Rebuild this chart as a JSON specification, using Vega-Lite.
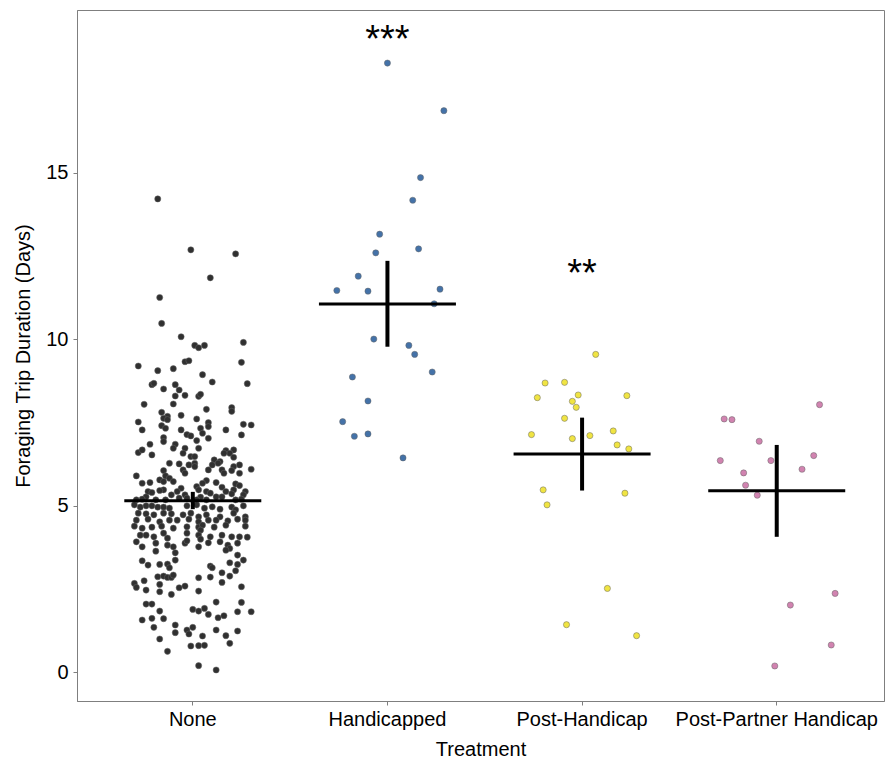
{
  "$schema": "https://vega.github.io/schema/vega-lite/v6.json",
  "width": 807,
  "height": 691,
  "autosize": "none",
  "padding": {"left": 77, "top": 10, "right": 1, "bottom": 61},
  "config": {
    "font": "Liberation Sans",
    "view": {"stroke": "#7f7f7f", "strokeWidth": 1},
    "axis": {
      "grid": false,
      "labelFont": "Liberation Sans",
      "titleFont": "Liberation Sans",
      "labelFontSize": 20,
      "titleFontSize": 20,
      "titleFontWeight": "normal",
      "labelColor": "#000000",
      "titleColor": "#000000",
      "domainColor": "#7f7f7f",
      "tickColor": "#7f7f7f",
      "tickSize": 4,
      "labelLimit": 0,
      "labelOverlap": false
    }
  },
  "datasets": {
    "points": [
      {"treatment":"None","days":14.22,"jitter":-0.18},
      {"treatment":"None","days":12.69,"jitter":-0.01},
      {"treatment":"None","days":12.57,"jitter":0.22},
      {"treatment":"None","days":11.85,"jitter":0.09},
      {"treatment":"None","days":11.26,"jitter":-0.17},
      {"treatment":"None","days":10.48,"jitter":-0.16},
      {"treatment":"None","days":10.08,"jitter":-0.06},
      {"treatment":"None","days":9.82,"jitter":0.01},
      {"treatment":"None","days":9.75,"jitter":0.03},
      {"treatment":"None","days":9.82,"jitter":0.06},
      {"treatment":"None","days":9.91,"jitter":0.26},
      {"treatment":"None","days":9.31,"jitter":0.25},
      {"treatment":"None","days":9.20,"jitter":-0.28},
      {"treatment":"None","days":9.33,"jitter":-0.04},
      {"treatment":"None","days":9.36,"jitter":-0.02},
      {"treatment":"None","days":9.06,"jitter":-0.18},
      {"treatment":"None","days":9.12,"jitter":-0.10},
      {"treatment":"None","days":8.94,"jitter":0.05},
      {"treatment":"None","days":8.72,"jitter":0.10},
      {"treatment":"None","days":8.67,"jitter":0.28},
      {"treatment":"None","days":8.64,"jitter":-0.21},
      {"treatment":"None","days":8.68,"jitter":-0.20},
      {"treatment":"None","days":8.51,"jitter":-0.15},
      {"treatment":"None","days":8.64,"jitter":-0.09},
      {"treatment":"None","days":8.48,"jitter":-0.07},
      {"treatment":"None","days":8.30,"jitter":-0.09},
      {"treatment":"None","days":8.32,"jitter":-0.04},
      {"treatment":"None","days":8.29,"jitter":0.03},
      {"treatment":"None","days":8.35,"jitter":0.04},
      {"treatment":"None","days":8.05,"jitter":-0.25},
      {"treatment":"None","days":8.06,"jitter":-0.10},
      {"treatment":"None","days":7.90,"jitter":0.07},
      {"treatment":"None","days":7.95,"jitter":0.20},
      {"treatment":"None","days":7.84,"jitter":0.20},
      {"treatment":"None","days":7.81,"jitter":-0.16},
      {"treatment":"None","days":7.69,"jitter":-0.13},
      {"treatment":"None","days":7.63,"jitter":-0.15},
      {"treatment":"None","days":7.59,"jitter":-0.13},
      {"treatment":"None","days":7.72,"jitter":-0.06},
      {"treatment":"None","days":7.61,"jitter":0.02},
      {"treatment":"None","days":7.52,"jitter":-0.28},
      {"treatment":"None","days":7.50,"jitter":0.08},
      {"treatment":"None","days":7.41,"jitter":-0.16},
      {"treatment":"None","days":7.33,"jitter":-0.14},
      {"treatment":"None","days":7.33,"jitter":0.04},
      {"treatment":"None","days":7.38,"jitter":0.08},
      {"treatment":"None","days":7.45,"jitter":0.26},
      {"treatment":"None","days":7.43,"jitter":0.30},
      {"treatment":"None","days":7.28,"jitter":-0.06},
      {"treatment":"None","days":7.28,"jitter":0.17},
      {"treatment":"None","days":7.28,"jitter":-0.26},
      {"treatment":"None","days":7.14,"jitter":-0.03},
      {"treatment":"None","days":7.10,"jitter":-0.01},
      {"treatment":"None","days":7.18,"jitter":0.05},
      {"treatment":"None","days":7.03,"jitter":0.08},
      {"treatment":"None","days":7.13,"jitter":0.25},
      {"treatment":"None","days":7.05,"jitter":-0.15},
      {"treatment":"None","days":6.93,"jitter":-0.15},
      {"treatment":"None","days":6.96,"jitter":0.02},
      {"treatment":"None","days":6.85,"jitter":-0.22},
      {"treatment":"None","days":6.85,"jitter":-0.09},
      {"treatment":"None","days":6.73,"jitter":-0.10},
      {"treatment":"None","days":6.73,"jitter":-0.04},
      {"treatment":"None","days":6.58,"jitter":-0.05},
      {"treatment":"None","days":6.60,"jitter":-0.28},
      {"treatment":"None","days":6.68,"jitter":-0.26},
      {"treatment":"None","days":6.53,"jitter":-0.21},
      {"treatment":"None","days":6.73,"jitter":0.03},
      {"treatment":"None","days":6.48,"jitter":-0.01},
      {"treatment":"None","days":6.48,"jitter":0.01},
      {"treatment":"None","days":6.66,"jitter":0.17},
      {"treatment":"None","days":6.68,"jitter":0.21},
      {"treatment":"None","days":6.58,"jitter":0.19},
      {"treatment":"None","days":6.58,"jitter":0.16},
      {"treatment":"None","days":6.46,"jitter":0.21},
      {"treatment":"None","days":6.38,"jitter":0.11},
      {"treatment":"None","days":6.33,"jitter":0.14},
      {"treatment":"None","days":6.23,"jitter":0.10},
      {"treatment":"None","days":6.28,"jitter":0.13},
      {"treatment":"None","days":6.28,"jitter":-0.12},
      {"treatment":"None","days":6.26,"jitter":-0.07},
      {"treatment":"None","days":6.28,"jitter":0.01},
      {"treatment":"None","days":6.18,"jitter":0.01},
      {"treatment":"None","days":6.23,"jitter":-0.02},
      {"treatment":"None","days":6.23,"jitter":0.24},
      {"treatment":"None","days":6.18,"jitter":0.21},
      {"treatment":"None","days":6.06,"jitter":-0.15},
      {"treatment":"None","days":6.08,"jitter":-0.05},
      {"treatment":"None","days":5.98,"jitter":-0.04},
      {"treatment":"None","days":6.08,"jitter":0.08},
      {"treatment":"None","days":6.08,"jitter":0.15},
      {"treatment":"None","days":5.98,"jitter":0.16},
      {"treatment":"None","days":6.06,"jitter":0.20},
      {"treatment":"None","days":5.98,"jitter":0.24},
      {"treatment":"None","days":6.10,"jitter":0.30},
      {"treatment":"None","days":5.90,"jitter":-0.29},
      {"treatment":"None","days":5.90,"jitter":-0.14},
      {"treatment":"None","days":5.83,"jitter":-0.12},
      {"treatment":"None","days":5.78,"jitter":-0.17},
      {"treatment":"None","days":5.73,"jitter":-0.15},
      {"treatment":"None","days":5.73,"jitter":-0.10},
      {"treatment":"None","days":5.76,"jitter":0.07},
      {"treatment":"None","days":5.68,"jitter":0.05},
      {"treatment":"None","days":5.70,"jitter":0.12},
      {"treatment":"None","days":5.68,"jitter":-0.26},
      {"treatment":"None","days":5.70,"jitter":-0.22},
      {"treatment":"None","days":5.66,"jitter":0.22},
      {"treatment":"None","days":5.61,"jitter":0.24},
      {"treatment":"None","days":5.56,"jitter":0.15},
      {"treatment":"None","days":5.53,"jitter":-0.06},
      {"treatment":"None","days":5.43,"jitter":-0.08},
      {"treatment":"None","days":5.58,"jitter":0.02},
      {"treatment":"None","days":5.48,"jitter":0.03},
      {"treatment":"None","days":5.48,"jitter":-0.15},
      {"treatment":"None","days":5.46,"jitter":-0.17},
      {"treatment":"None","days":5.43,"jitter":-0.23},
      {"treatment":"None","days":5.40,"jitter":-0.21},
      {"treatment":"None","days":5.27,"jitter":-0.24},
      {"treatment":"None","days":5.43,"jitter":0.07},
      {"treatment":"None","days":5.38,"jitter":0.09},
      {"treatment":"None","days":5.43,"jitter":0.17},
      {"treatment":"None","days":5.48,"jitter":0.21},
      {"treatment":"None","days":5.36,"jitter":0.20},
      {"treatment":"None","days":5.43,"jitter":0.27},
      {"treatment":"None","days":5.33,"jitter":0.26},
      {"treatment":"None","days":5.33,"jitter":-0.11},
      {"treatment":"None","days":5.18,"jitter":-0.14},
      {"treatment":"None","days":5.18,"jitter":-0.19},
      {"treatment":"None","days":5.33,"jitter":-0.04},
      {"treatment":"None","days":5.23,"jitter":-0.03},
      {"treatment":"None","days":5.23,"jitter":-0.07},
      {"treatment":"None","days":5.26,"jitter":0.04},
      {"treatment":"None","days":5.18,"jitter":0.02},
      {"treatment":"None","days":5.18,"jitter":0.07},
      {"treatment":"None","days":5.27,"jitter":0.12},
      {"treatment":"None","days":5.27,"jitter":0.15},
      {"treatment":"None","days":5.18,"jitter":-0.29},
      {"treatment":"None","days":5.20,"jitter":-0.26},
      {"treatment":"None","days":5.18,"jitter":0.22},
      {"treatment":"None","days":5.20,"jitter":0.25},
      {"treatment":"None","days":5.03,"jitter":-0.30},
      {"treatment":"None","days":4.96,"jitter":-0.27},
      {"treatment":"None","days":5.00,"jitter":-0.24},
      {"treatment":"None","days":5.00,"jitter":-0.21},
      {"treatment":"None","days":4.96,"jitter":-0.18},
      {"treatment":"None","days":4.96,"jitter":-0.15},
      {"treatment":"None","days":4.93,"jitter":-0.12},
      {"treatment":"None","days":5.00,"jitter":-0.03},
      {"treatment":"None","days":5.03,"jitter":0.02},
      {"treatment":"None","days":4.93,"jitter":0.06},
      {"treatment":"None","days":4.97,"jitter":0.10},
      {"treatment":"None","days":4.90,"jitter":0.14},
      {"treatment":"None","days":4.96,"jitter":0.20},
      {"treatment":"None","days":4.88,"jitter":0.22},
      {"treatment":"None","days":5.00,"jitter":0.26},
      {"treatment":"None","days":4.78,"jitter":-0.28},
      {"treatment":"None","days":4.76,"jitter":-0.24},
      {"treatment":"None","days":4.73,"jitter":-0.20},
      {"treatment":"None","days":4.78,"jitter":-0.15},
      {"treatment":"None","days":4.76,"jitter":-0.11},
      {"treatment":"None","days":4.73,"jitter":-0.05},
      {"treatment":"None","days":4.78,"jitter":-0.01},
      {"treatment":"None","days":4.67,"jitter":0.03},
      {"treatment":"None","days":4.73,"jitter":0.07},
      {"treatment":"None","days":4.67,"jitter":0.14},
      {"treatment":"None","days":4.78,"jitter":0.21},
      {"treatment":"None","days":4.67,"jitter":0.27},
      {"treatment":"None","days":4.57,"jitter":-0.29},
      {"treatment":"None","days":4.60,"jitter":-0.23},
      {"treatment":"None","days":4.52,"jitter":-0.17},
      {"treatment":"None","days":4.57,"jitter":-0.12},
      {"treatment":"None","days":4.57,"jitter":-0.08},
      {"treatment":"None","days":4.60,"jitter":-0.02},
      {"treatment":"None","days":4.52,"jitter":0.03},
      {"treatment":"None","days":4.57,"jitter":0.08},
      {"treatment":"None","days":4.57,"jitter":0.12},
      {"treatment":"None","days":4.55,"jitter":0.18},
      {"treatment":"None","days":4.60,"jitter":0.23},
      {"treatment":"None","days":4.57,"jitter":0.27},
      {"treatment":"None","days":4.39,"jitter":-0.30},
      {"treatment":"None","days":4.33,"jitter":-0.26},
      {"treatment":"None","days":4.36,"jitter":-0.21},
      {"treatment":"None","days":4.39,"jitter":-0.16},
      {"treatment":"None","days":4.33,"jitter":-0.10},
      {"treatment":"None","days":4.37,"jitter":-0.03},
      {"treatment":"None","days":4.36,"jitter":0.03},
      {"treatment":"None","days":4.42,"jitter":0.05},
      {"treatment":"None","days":4.36,"jitter":0.11},
      {"treatment":"None","days":4.42,"jitter":0.17},
      {"treatment":"None","days":4.39,"jitter":0.27},
      {"treatment":"None","days":4.12,"jitter":-0.27},
      {"treatment":"None","days":4.12,"jitter":-0.24},
      {"treatment":"None","days":4.07,"jitter":-0.20},
      {"treatment":"None","days":4.18,"jitter":-0.15},
      {"treatment":"None","days":4.03,"jitter":-0.13},
      {"treatment":"None","days":4.18,"jitter":-0.03},
      {"treatment":"None","days":4.27,"jitter":0.04},
      {"treatment":"None","days":4.12,"jitter":0.03},
      {"treatment":"None","days":4.07,"jitter":0.09},
      {"treatment":"None","days":4.12,"jitter":0.15},
      {"treatment":"None","days":4.07,"jitter":0.20},
      {"treatment":"None","days":4.07,"jitter":0.24},
      {"treatment":"None","days":4.06,"jitter":0.28},
      {"treatment":"None","days":3.77,"jitter":-0.26},
      {"treatment":"None","days":3.88,"jitter":-0.19},
      {"treatment":"None","days":3.82,"jitter":-0.13},
      {"treatment":"None","days":3.77,"jitter":-0.10},
      {"treatment":"None","days":3.88,"jitter":-0.04},
      {"treatment":"None","days":3.95,"jitter":-0.03},
      {"treatment":"None","days":4.00,"jitter":0.04},
      {"treatment":"None","days":3.77,"jitter":0.03},
      {"treatment":"None","days":3.89,"jitter":0.08},
      {"treatment":"None","days":3.92,"jitter":0.14},
      {"treatment":"None","days":3.82,"jitter":0.18},
      {"treatment":"None","days":3.72,"jitter":0.19},
      {"treatment":"None","days":3.88,"jitter":0.23},
      {"treatment":"None","days":3.92,"jitter":-0.29},
      {"treatment":"None","days":3.64,"jitter":-0.19},
      {"treatment":"None","days":3.59,"jitter":-0.09},
      {"treatment":"None","days":3.67,"jitter":0.17},
      {"treatment":"None","days":3.52,"jitter":0.23},
      {"treatment":"None","days":3.37,"jitter":0.26},
      {"treatment":"None","days":3.37,"jitter":-0.09},
      {"treatment":"None","days":3.35,"jitter":-0.26},
      {"treatment":"None","days":3.22,"jitter":-0.23},
      {"treatment":"None","days":3.24,"jitter":-0.17},
      {"treatment":"None","days":3.25,"jitter":-0.13},
      {"treatment":"None","days":3.14,"jitter":-0.12},
      {"treatment":"None","days":3.19,"jitter":0.09},
      {"treatment":"None","days":3.14,"jitter":0.10},
      {"treatment":"None","days":3.29,"jitter":0.19},
      {"treatment":"None","days":3.24,"jitter":0.23},
      {"treatment":"None","days":3.05,"jitter":0.22},
      {"treatment":"None","days":2.99,"jitter":0.15},
      {"treatment":"None","days":2.89,"jitter":0.19},
      {"treatment":"None","days":2.87,"jitter":-0.18},
      {"treatment":"None","days":2.89,"jitter":-0.15},
      {"treatment":"None","days":2.85,"jitter":-0.13},
      {"treatment":"None","days":2.85,"jitter":-0.11},
      {"treatment":"None","days":2.92,"jitter":-0.10},
      {"treatment":"None","days":2.84,"jitter":0.03},
      {"treatment":"None","days":2.86,"jitter":0.09},
      {"treatment":"None","days":2.67,"jitter":-0.30},
      {"treatment":"None","days":2.55,"jitter":-0.29},
      {"treatment":"None","days":2.75,"jitter":-0.25},
      {"treatment":"None","days":2.47,"jitter":-0.24},
      {"treatment":"None","days":2.64,"jitter":-0.17},
      {"treatment":"None","days":2.42,"jitter":-0.17},
      {"treatment":"None","days":2.34,"jitter":-0.11},
      {"treatment":"None","days":2.54,"jitter":-0.07},
      {"treatment":"None","days":2.59,"jitter":-0.04},
      {"treatment":"None","days":2.44,"jitter":0.03},
      {"treatment":"None","days":2.70,"jitter":0.15},
      {"treatment":"None","days":2.57,"jitter":0.25},
      {"treatment":"None","days":2.05,"jitter":-0.24},
      {"treatment":"None","days":2.05,"jitter":-0.21},
      {"treatment":"None","days":1.84,"jitter":-0.17},
      {"treatment":"None","days":1.89,"jitter":0.00},
      {"treatment":"None","days":1.84,"jitter":0.03},
      {"treatment":"None","days":1.92,"jitter":0.06},
      {"treatment":"None","days":1.74,"jitter":0.08},
      {"treatment":"None","days":2.11,"jitter":0.12},
      {"treatment":"None","days":1.64,"jitter":0.13},
      {"treatment":"None","days":1.70,"jitter":0.16},
      {"treatment":"None","days":1.82,"jitter":0.23},
      {"treatment":"None","days":2.10,"jitter":0.25},
      {"treatment":"None","days":1.82,"jitter":0.30},
      {"treatment":"None","days":1.57,"jitter":-0.26},
      {"treatment":"None","days":1.62,"jitter":-0.21},
      {"treatment":"None","days":1.61,"jitter":-0.15},
      {"treatment":"None","days":1.42,"jitter":-0.09},
      {"treatment":"None","days":1.19,"jitter":-0.09},
      {"treatment":"None","days":1.35,"jitter":-0.20},
      {"treatment":"None","days":1.00,"jitter":-0.17},
      {"treatment":"None","days":1.27,"jitter":-0.03},
      {"treatment":"None","days":1.15,"jitter":-0.02},
      {"treatment":"None","days":1.35,"jitter":0.00},
      {"treatment":"None","days":1.09,"jitter":0.05},
      {"treatment":"None","days":1.27,"jitter":0.12},
      {"treatment":"None","days":1.10,"jitter":0.17},
      {"treatment":"None","days":0.87,"jitter":0.19},
      {"treatment":"None","days":1.24,"jitter":0.23},
      {"treatment":"None","days":0.79,"jitter":-0.01},
      {"treatment":"None","days":0.80,"jitter":0.03},
      {"treatment":"None","days":0.81,"jitter":0.06},
      {"treatment":"None","days":0.63,"jitter":-0.13},
      {"treatment":"None","days":0.20,"jitter":0.03},
      {"treatment":"None","days":0.07,"jitter":0.12},
      {"treatment":"Handicapped","days":18.30,"jitter":0.00},
      {"treatment":"Handicapped","days":16.87,"jitter":0.29},
      {"treatment":"Handicapped","days":14.86,"jitter":0.17},
      {"treatment":"Handicapped","days":14.18,"jitter":0.13},
      {"treatment":"Handicapped","days":13.16,"jitter":-0.04},
      {"treatment":"Handicapped","days":12.60,"jitter":-0.06},
      {"treatment":"Handicapped","days":12.72,"jitter":0.16},
      {"treatment":"Handicapped","days":11.90,"jitter":-0.15},
      {"treatment":"Handicapped","days":11.47,"jitter":-0.26},
      {"treatment":"Handicapped","days":11.45,"jitter":-0.10},
      {"treatment":"Handicapped","days":11.51,"jitter":0.27},
      {"treatment":"Handicapped","days":11.07,"jitter":0.24},
      {"treatment":"Handicapped","days":10.01,"jitter":-0.07},
      {"treatment":"Handicapped","days":9.82,"jitter":0.11},
      {"treatment":"Handicapped","days":9.55,"jitter":0.14},
      {"treatment":"Handicapped","days":9.02,"jitter":0.23},
      {"treatment":"Handicapped","days":8.87,"jitter":-0.18},
      {"treatment":"Handicapped","days":8.15,"jitter":-0.10},
      {"treatment":"Handicapped","days":7.53,"jitter":-0.23},
      {"treatment":"Handicapped","days":7.09,"jitter":-0.17},
      {"treatment":"Handicapped","days":7.16,"jitter":-0.10},
      {"treatment":"Handicapped","days":6.44,"jitter":0.08},
      {"treatment":"Post-Handicap","days":9.55,"jitter":0.07},
      {"treatment":"Post-Handicap","days":8.69,"jitter":-0.19},
      {"treatment":"Post-Handicap","days":8.71,"jitter":-0.09},
      {"treatment":"Post-Handicap","days":8.25,"jitter":-0.23},
      {"treatment":"Post-Handicap","days":8.33,"jitter":-0.02},
      {"treatment":"Post-Handicap","days":8.31,"jitter":0.23},
      {"treatment":"Post-Handicap","days":8.14,"jitter":-0.05},
      {"treatment":"Post-Handicap","days":7.96,"jitter":-0.03},
      {"treatment":"Post-Handicap","days":7.63,"jitter":-0.09},
      {"treatment":"Post-Handicap","days":7.25,"jitter":0.16},
      {"treatment":"Post-Handicap","days":7.14,"jitter":-0.26},
      {"treatment":"Post-Handicap","days":7.02,"jitter":-0.05},
      {"treatment":"Post-Handicap","days":7.11,"jitter":0.04},
      {"treatment":"Post-Handicap","days":6.83,"jitter":0.18},
      {"treatment":"Post-Handicap","days":6.71,"jitter":0.24},
      {"treatment":"Post-Handicap","days":5.48,"jitter":-0.20},
      {"treatment":"Post-Handicap","days":5.38,"jitter":0.22},
      {"treatment":"Post-Handicap","days":5.03,"jitter":-0.18},
      {"treatment":"Post-Handicap","days":2.52,"jitter":0.13},
      {"treatment":"Post-Handicap","days":1.43,"jitter":-0.08},
      {"treatment":"Post-Handicap","days":1.10,"jitter":0.28},
      {"treatment":"Post-Partner Handicap","days":8.04,"jitter":0.22},
      {"treatment":"Post-Partner Handicap","days":7.61,"jitter":-0.27},
      {"treatment":"Post-Partner Handicap","days":7.59,"jitter":-0.23},
      {"treatment":"Post-Partner Handicap","days":6.94,"jitter":-0.09},
      {"treatment":"Post-Partner Handicap","days":6.36,"jitter":-0.29},
      {"treatment":"Post-Partner Handicap","days":6.36,"jitter":-0.03},
      {"treatment":"Post-Partner Handicap","days":6.51,"jitter":0.19},
      {"treatment":"Post-Partner Handicap","days":6.10,"jitter":0.13},
      {"treatment":"Post-Partner Handicap","days":5.99,"jitter":-0.17},
      {"treatment":"Post-Partner Handicap","days":5.62,"jitter":-0.16},
      {"treatment":"Post-Partner Handicap","days":5.32,"jitter":-0.10},
      {"treatment":"Post-Partner Handicap","days":2.37,"jitter":0.30},
      {"treatment":"Post-Partner Handicap","days":2.02,"jitter":0.07},
      {"treatment":"Post-Partner Handicap","days":0.82,"jitter":0.28},
      {"treatment":"Post-Partner Handicap","days":0.19,"jitter":-0.01}
    ],
    "summary": [
      {"treatment":"None","mean":5.15,"low":4.90,"high":5.42},
      {"treatment":"Handicapped","mean":11.06,"low":9.78,"high":12.36},
      {"treatment":"Post-Handicap","mean":6.56,"low":5.46,"high":7.65},
      {"treatment":"Post-Partner Handicap","mean":5.45,"low":4.07,"high":6.83}
    ],
    "labels": [
      {"treatment":"Handicapped","y":18.62,"label":"***"},
      {"treatment":"Post-Handicap","y":11.6,"label":"**"}
    ]
  },
  "layer": [
    {
      "data": {"name": "points"},
      "mark": {"type": "circle", "size": 38, "opacity": 1, "stroke": "#666666", "strokeWidth": 0.5},
      "encoding": {
        "x": {
          "field": "treatment", "type": "nominal",
          "sort": ["None", "Handicapped", "Post-Handicap", "Post-Partner Handicap"],
          "scale": {"paddingInner": 0, "paddingOuter": 0.073, "align": 0.65},
          "axis": {"title": "Treatment", "labelAngle": 0, "labelPadding": 4, "titlePadding": 10}
        },
        "xOffset": {"field": "jitter", "type": "quantitative", "scale": {"domain": [-0.5, 0.5]}},
        "y": {
          "field": "days", "type": "quantitative",
          "scale": {"domain": [-0.862, 19.895], "nice": false, "zero": false},
          "axis": {"title": "Foraging Trip Duration (Days)", "values": [0, 5, 10, 15], "labelPadding": 5, "titlePadding": 12}
        },
        "fill": {
          "field": "treatment", "type": "nominal",
          "scale": {"domain": ["None", "Handicapped", "Post-Handicap", "Post-Partner Handicap"], "range": ["#303030", "#4472a8", "#f0e442", "#d183b0"]},
          "legend": null
        }
      }
    },
    {
      "data": {"name": "summary"},
      "mark": {"type": "tick", "orient": "horizontal", "size": 137, "thickness": 3, "color": "#000000", "opacity": 1},
      "encoding": {
        "x": {"field": "treatment", "type": "nominal", "sort": ["None", "Handicapped", "Post-Handicap", "Post-Partner Handicap"]},
        "y": {"field": "mean", "type": "quantitative"}
      }
    },
    {
      "data": {"name": "summary"},
      "mark": {"type": "rule", "strokeWidth": 4, "color": "#000000"},
      "encoding": {
        "x": {"field": "treatment", "type": "nominal", "sort": ["None", "Handicapped", "Post-Handicap", "Post-Partner Handicap"]},
        "y": {"field": "low", "type": "quantitative"},
        "y2": {"field": "high"}
      }
    },
    {
      "data": {"name": "labels"},
      "mark": {"type": "text", "fontSize": 38, "baseline": "alphabetic", "align": "center", "color": "#000000", "font": "Liberation Sans"},
      "encoding": {
        "x": {"field": "treatment", "type": "nominal", "sort": ["None", "Handicapped", "Post-Handicap", "Post-Partner Handicap"]},
        "y": {"field": "y", "type": "quantitative"},
        "text": {"field": "label"}
      }
    }
  ]
}
